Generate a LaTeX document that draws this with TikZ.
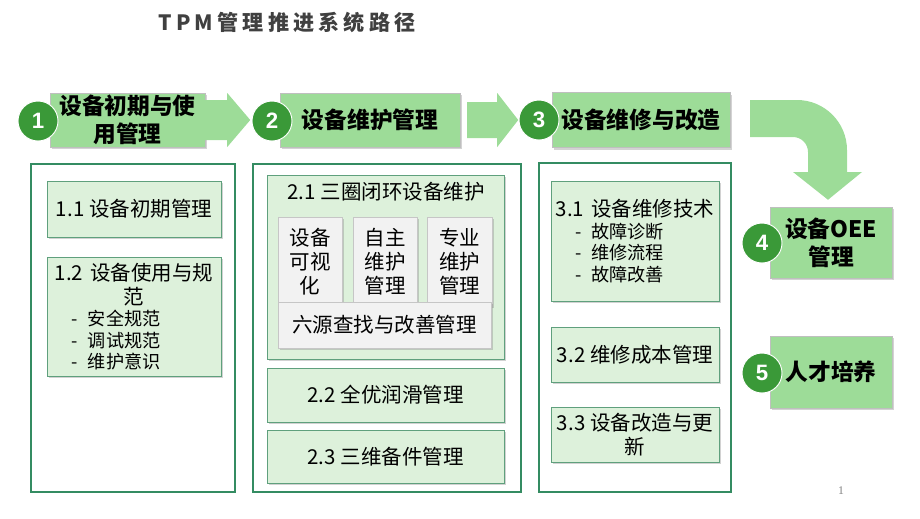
\documentclass[tikz,border=0pt]{standalone}
\usepackage{fontspec}
\setmainfont{Noto Sans CJK SC}
\newfontfamily\numfont{Liberation Sans}
\newfontfamily\pgnumfont{Liberation Serif}
\usetikzlibrary{shadows,calc}

\definecolor{hdrgreen}{RGB}{157,220,152}
\definecolor{circgreen}{RGB}{58,153,56}
\definecolor{framegreen}{RGB}{52,140,98}
\definecolor{boxfill}{RGB}{221,241,219}
\definecolor{boxborder}{RGB}{95,160,125}
\definecolor{grayfill}{RGB}{242,242,242}
\definecolor{titlegray}{RGB}{64,64,64}

\tikzset{
  header/.style={draw=gray!50, fill=hdrgreen, align=center, inner sep=0pt,
    font=\fontsize{19.4}{24}\selectfont\bfseries,
    drop shadow={shadow xshift=2pt, shadow yshift=-2pt, opacity=0.35}},
  badge/.style={circle, fill=circgreen, draw=white, line width=0.8pt,
    minimum size=1.2cm, inner sep=0pt, text=white,
    font=\numfont\fontsize{19}{19}\selectfont\bfseries},
  frame/.style={draw=framegreen, line width=1.6pt, fill=white},
  itembox/.style={draw=boxborder, line width=0.8pt, fill=boxfill, inner sep=0pt,
    font=\fontsize{17.5}{20.4}\selectfont,
    drop shadow={shadow xshift=2pt, shadow yshift=-2pt, opacity=0.35}},
  graybox/.style={draw=gray!45, line width=0.6pt, fill=grayfill, inner sep=0pt,
    align=center, font=\fontsize{17.5}{20.4}\selectfont,
    drop shadow={shadow xshift=2pt, shadow yshift=-2pt, opacity=0.35}},
  blockarrow/.style={fill=hdrgreen}
}

\newcommand{\dashitem}[2]{\hspace*{#1}\makebox[0.48cm][l]{-}#2}

\begin{document}
\begin{tikzpicture}[x=0.03cm, y=-0.03cm]
\useasboundingbox (0,0) rectangle (920,518);

% Title
\node[font=\fontsize{18}{18}\selectfont\bfseries\addfontfeature{LetterSpace=20}, text=titlegray] (title) at (287,22) {TPM管理推进系统路径};

% Frames
\node[frame, minimum width=6.12cm, minimum height=9.84cm] (f1) at (133,328) {};
\node[frame, minimum width=8.04cm, minimum height=9.84cm] (f2) at (387,328) {};
\node[frame, minimum width=5.76cm, minimum height=9.87cm] (f3) at (635,327.5) {};

% Column 1
\node[itembox, minimum width=5.22cm, minimum height=1.68cm, align=center] (b11) at (134,209) {1.1 设备初期管理};
\node[itembox, minimum height=3.57cm, text width=5.22cm] (b12) at (134,316.5) {
{\centering 1.2 设备使用与规\\范\par}
{\fontsize{15.5}{18.3}\selectfont\raggedright
\dashitem{0.75cm}{安全规范}\\
\dashitem{0.75cm}{调试规范}\\
\dashitem{0.75cm}{维护意识}\par}
};

% Column 2
\node[itembox, minimum width=7.11cm, minimum height=5.52cm] (b21) at (385.5,267) {};
\node[font=\fontsize{17.5}{20.4}\selectfont] (b21t) at (386,192) {2.1 三圈闭环设备维护};
\node[graybox, minimum width=1.92cm, minimum height=2.67cm] (g1) at (310,261.5) {设备\\可视\\化};
\node[graybox, minimum width=1.92cm, minimum height=2.67cm] (g2) at (385,261.5) {自主\\维护\\管理};
\node[graybox, minimum width=1.95cm, minimum height=2.67cm] (g3) at (459.5,261.5) {专业\\维护\\管理};
\node[graybox, minimum width=6.39cm, minimum height=1.38cm] (g4) at (384.5,325) {六源查找与改善管理};
\node[itembox, minimum width=7.11cm, minimum height=1.62cm, align=center] (b22) at (385.5,395) {2.2 全优润滑管理};
\node[itembox, minimum width=7.11cm, minimum height=1.59cm, align=center] (b23) at (385.5,456.5) {2.3 三维备件管理};

% Column 3
\node[itembox, minimum height=3.6cm, text width=5.04cm] (b31) at (635,241) {
{\centering 3.1 设备维修技术\par}
{\fontsize{15.5}{18.3}\selectfont\raggedright
\dashitem{0.72cm}{故障诊断}\\
\dashitem{0.72cm}{维修流程}\\
\dashitem{0.72cm}{故障改善}\par}
};
\node[itembox, minimum width=5.04cm, minimum height=1.65cm, align=center] (b32) at (635,354.5) {3.2 维修成本管理};
\node[itembox, minimum width=5.04cm, minimum height=1.65cm, align=center] (b33) at (635,434.5) {3.3 设备改造与更\\新};

% Headers
\node[header, minimum width=4.65cm, minimum height=1.62cm] (h1) at (127.5,120) {设备初期与使\\用管理};
\node[header, minimum width=5.4cm, minimum height=1.62cm] (h2) at (370,120) {设备维护管理};
\node[header, minimum width=5.34cm, minimum height=1.65cm] (h3) at (641,120) {设备维修与改造};
\node[header, minimum width=3.66cm, minimum height=2.13cm] (h4) at (831,242.5) {设备OEE\\管理};
\node[header, minimum width=3.66cm, minimum height=2.16cm] (h5) at (831,372) {人才培养};

% Badges
\node[badge] (c1) at (38,121) {1};
\node[badge] (c2) at (272,121) {2};
\node[badge] (c3) at (539,120) {3};
\node[badge] (c4) at (762,243) {4};
\node[badge] (c5) at (762,373) {5};

% Arrows
\fill[blockarrow] ($(h1.east)+(0,-20)$) -- ++(22,0) -- ++(0,-7) -- ++(23,27) -- ++(-23,27) -- ++(0,-7) -- ++(-22,0) -- cycle;
\fill[blockarrow] ($(h2.east)+(7,-18)$) -- ++(30,0) -- ++(0,-9) -- ++(21,27) -- ++(-21,27) -- ++(0,-9) -- ++(-30,0) -- cycle;
\fill[blockarrow] ($(h3.east)+(20,-20)$) -- (797,100) .. controls (824.6,100) and (847,122.4) .. (847,150)
  -- (847,172) -- (862,172) -- ($(h4.north)+(-3,-7)$) -- (793,172) -- (808,172) -- (808,152)
  .. controls (808,143.7) and (801.3,137) .. (793,137) -- ($(h3.east)+(20,17)$) -- cycle;

% Page number
\node[font=\pgnumfont\fontsize{10}{10}\selectfont, text=gray] (pg) at (841,491) {1};

\end{tikzpicture}
\end{document}
